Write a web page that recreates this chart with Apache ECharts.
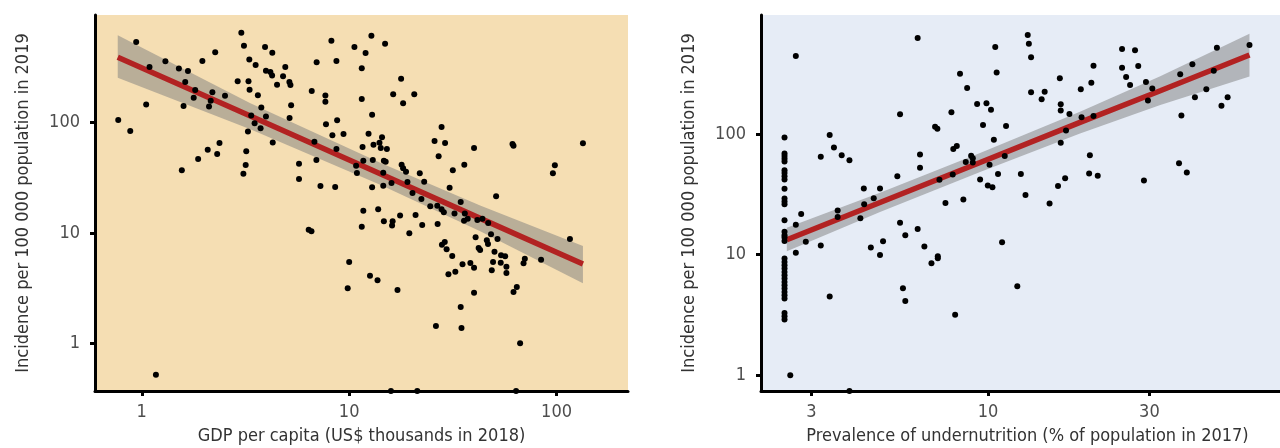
<!DOCTYPE html>
<html>
<head>
<meta charset="utf-8">
<script src="https://cdn.jsdelivr.net/npm/echarts@6/dist/echarts.min.js"></script>
<style>
html,body{margin:0;padding:0;background:#fff;}
#chart{width:1280px;height:448px;}
</style>
</head>
<body>
<div id="chart"></div>
<script>
// ---------- Left panel: GDP per capita vs incidence ----------
const gdpPoints = [
[0.94,539],[0.77,106],[0.88,84],[1.09,320],[1.05,146],[1.30,360],[1.51,309],[1.67,294],[1.62,234],[1.81,198],
[1.78,168],[1.59,142],[1.96,362],[2.26,435],[2.19,189],[2.15,158],[2.11,140],[2.52,175],[3.02,654],[3.11,499],
[3.30,373],[3.54,334],[2.90,237],[3.27,237],[3.31,199],[3.63,177],[3.77,137],[3.37,116],[3.50,99],[3.74,89],
[3.97,114],[3.25,83],[3.93,486],[4.26,431],[3.97,296],[4.17,288],[4.25,267],[4.49,221],[4.80,263],[4.92,320],
[5.15,234],[5.21,220],[5.25,144],[5.16,110],[4.28,66],[2.37,65.5],[2.08,56.9],[2.31,52],[1.87,46.9],[1.56,37],
[3.19,55],[3.17,41.4],[3.09,34.5],[5.73,42.5],[5.73,30.9],[6.97,353],[6.60,194],[6.80,67],[6.95,45.9],[7.27,26.7],
[7.68,176],[7.68,155],[7.73,96.7],[8.21,554],[8.30,76.9],[8.68,362],[10.6,486],[12.0,428],[12.8,615],[14.9,520],
[11.5,311],[17.8,250],[16.3,181],[18.2,150],[20.6,181],[11.5,164],[8.75,105],[12.9,118],[9.39,79],[12.4,79.5],
[14.4,73.7],[11.6,60.2],[13.1,63.2],[14.0,65.9],[14.2,59.0],[15.2,57.7],[8.68,57.7],[8.56,26.1],[10.8,40.7],[10.9,35.0],
[11.7,45.2],[13.0,45.9],[14.7,45.2],[15.0,44.3],[14.6,35.2],[16.0,28.4],[12.9,26.0],[14.6,26.8],[17.9,41.6],[18.2,38.6],
[18.8,36.0],[19.1,29.0],[21.9,34.8],[23.0,29.2],[20.2,23.0],[22.3,20.3],[24.6,17.5],[26.6,17.7],[27.9,16.4],[28.6,15.4],
[32.2,15.0],[34.5,19.1],[36.1,15.0],[30.5,25.7],[31.6,37.0],[35.9,41.6],[27.9,91.4],[25.8,68.2],[29.0,65.5],[27.0,49.6],
[40.0,59.0],[51.1,21.5],[61.3,64.1],[62.0,61.9],[134,65.1],[98.1,41.1],[96.0,34.8],[11.7,15.9],[13.8,16.4],[14.7,12.8],
[16.2,12.8],[17.6,14.4],[20.9,14.6],[26.7,12.1],[35.8,12.9],[37.3,13.5],[41.5,13.1],[43.9,13.5],[46.8,12.3],[11.5,11.4],
[16.1,11.7],[22.5,11.8],[19.5,9.94],[40.7,9.14],[46.1,8.59],[46.7,7.95],[48.3,9.73],[51.9,8.82],[42.1,7.31],[42.8,7.01],
[50.2,6.77],[54.0,6.28],[56.5,6.15],[28.0,7.83],[28.9,8.28],[29.5,7.11],[31.4,6.19],[35.2,5.20],[38.4,5.35],[40.0,4.85],
[49.4,5.46],[48.7,4.59],[53.8,5.38],[57.3,4.95],[57.3,4.34],[70.3,5.85],[69.3,5.31],[84.2,5.73],[116,8.82],[30.1,4.22],
[32.5,4.46],[64.3,3.24],[62.0,2.92],[40.0,2.88],[34.5,2.13],[26.2,1.44],[34.8,1.38],[66.7,1.0],[10.0,5.46],[9.84,3.15],
[12.6,4.10],[13.7,3.73],[17.1,3.04],[6.38,10.7],[6.58,10.4],[1.17,0.52]
];
// countries below the y-axis floor (drawn on the lower edge)
const gdpAtFloorX = [15.9, 21.3, 63.8];
const gdpFitX     = [0.766, 3.34, 14.2, 43.1, 134];
const gdpFitY     = [392, 115, 34.2, 13.5, 5.24];
const gdpFitLower = [256, 87.3, 27.2, 10.3, 3.50];
const gdpFitUpper = [620, 150, 43.1, 17.7, 7.62];
const gdpXTicks = [1, 10, 100];
const gdpYTicks = [1, 10, 100];

// ---------- Right panel: undernutrition vs incidence ----------
const underPoints = [
[2.5,93.9],[2.5,69.2],[2.5,65.7],[2.5,62.4],[2.5,59.3],[2.5,50.2],[2.5,47.7],[2.5,44.8],[2.5,42.1],[2.5,35.2],
[2.5,29.3],[2.5,27.6],[2.5,26.2],[2.5,19.3],[2.5,15.5],[2.5,14.5],[2.5,13.9],[2.5,13.0],[2.5,9.30],[2.5,8.71],
[2.5,8.18],[2.5,7.68],[2.5,7.20],[2.5,6.76],[2.5,6.35],[2.5,5.95],[2.5,5.58],[2.5,5.24],[2.5,4.91],[2.5,4.61],
[2.5,4.33],[2.5,3.29],[2.5,3.09],[2.5,2.90],
[2.70,444],[6.19,626],[8.26,317],[8.67,241],[7.79,152],[6.97,115],[7.08,111],[5.49,146],[3.40,98.1],[3.50,77.6],
[3.20,64.8],[3.69,66.9],[3.89,60.8],[6.29,67.9],[6.29,52.5],[7.89,75.1],[8.08,79.5],[7.86,46.3],[8.59,58.6],[5.39,44.8],
[7.18,41.8],[4.29,35.4],[4.79,35.4],[4.59,29.4],[4.30,26.2],[3.59,23.3],[3.59,20.5],[4.19,20.1],[2.80,21.8],[7.48,26.9],
[8.45,28.7],[5.49,18.4],[2.70,17.7],[2.70,10.4],[2.89,12.8],[3.20,11.9],[2.60,1.0],[3.40,4.50],[4.50,11.5],[4.79,9.96],
[4.89,12.9],[5.69,14.5],[6.19,16.3],[5.60,5.27],[5.69,4.14],[6.48,11.7],[6.80,8.50],[7.10,9.72],[7.10,9.35],[7.99,3.17],
[11.0,12.7],[12.2,5.48],[10.5,527],[10.6,325],[13.1,663],[13.2,562],[13.4,433],[13.4,222],[14.7,224],[14.4,195],
[9.28,178],[9.89,180],[10.2,159],[9.66,119],[11.3,117],[10.4,89.7],[8.91,66.1],[9.01,63.2],[9.01,58.2],[10.1,55.6],
[11.2,65.7],[10.7,46.6],[9.47,42.1],[9.98,37.5],[10.3,36.3],[12.5,46.6],[12.9,31.2],[15.2,26.6],[16.1,37.2],[16.9,43.1],
[16.4,84.7],[17.0,107],[17.4,147],[16.4,157],[16.4,177],[16.3,290],[18.9,138],[18.8,236],[20.2,267],[20.5,369],
[20.5,141],[20.0,66.9],[19.9,47.2],[21.1,45.1],[24.9,508],[24.9,355],[25.6,297],[26.3,255],[27.2,495],[27.8,367],
[29.3,270],[30.6,239],[29.7,190],[28.9,41.3],[36.7,57.4],[38.7,48.1],[37.3,143],[37.0,313],[40.2,379],[40.9,202],
[44.2,236],[46.5,335],[47.5,520],[49.0,172],[51.1,202],[59.3,548]
];
const underAtFloorX = [3.89];
const underFitX     = [2.54, 4.79, 9.47, 18.7, 32.3, 59.3];
const underFitY     = [13.3, 27.1, 58.1, 125, 229, 453];
const underFitLower = [10.7, 22.6, 48.4, 101, 174, 301];
const underFitUpper = [16.7, 32.6, 69.7, 153, 302, 680];
const underXTicks = [3, 10, 30];
const underYTicks = [1, 10, 100];

// ---------- axis ranges ----------
const LEFT_X = [0.595, 221], LEFT_Y = [0.37, 946];
const RIGHT_X = [2.13, 73], RIGHT_Y = [0.741, 972];

const FONT = "'DejaVu Sans Condensed', 'DejaVu Sans', sans-serif";
const FS = 18;

function xAxisCfg(grid, range, ticks, name, namePad) {
  return {
    type: 'log', logBase: 10, gridIndex: grid, min: range[0], max: range[1],
    name: name, nameLocation: 'middle', nameGap: 36,
    nameTextStyle: {fontFamily: FONT, fontSize: FS, color: '#333', padding: namePad},
    axisLine: {show: true, onZero: false, lineStyle: {color: '#000', width: 3}},
    axisTick: {show: true, customValues: ticks, length: 5, lineStyle: {color: '#000', width: 3}},
    axisLabel: {customValues: ticks, fontFamily: FONT, fontSize: FS, color: '#4d4d4d', margin: 12},
    splitLine: {show: false}, minorTick: {show: false}
  };
}
function yAxisCfg(grid, range, ticks, name) {
  return {
    type: 'log', logBase: 10, gridIndex: grid, min: range[0], max: range[1],
    name: name, nameLocation: 'middle', nameGap: 63,
    nameTextStyle: {fontFamily: FONT, fontSize: FS, color: '#333'},
    axisLine: {show: true, onZero: false, lineStyle: {color: '#000', width: 3}},
    axisTick: {show: true, customValues: ticks, length: 5, lineStyle: {color: '#000', width: 3}},
    axisLabel: {customValues: ticks, fontFamily: FONT, fontSize: FS, color: '#4d4d4d', margin: 15},
    splitLine: {show: false}, minorTick: {show: false}
  };
}

function bandSeries(idx, xs, lo, hi) {
  const items = xs.map((x, i) => [x, lo[i], hi[i]]);
  return {
    type: 'custom', xAxisIndex: idx, yAxisIndex: idx, z: 1, silent: true,
    data: items,
    renderItem: function (params, api) {
      if (params.dataIndex !== 0) return null;
      const pts = [];
      for (let i = 0; i < items.length; i++) pts.push(api.coord([items[i][0], items[i][2]]));
      for (let i = items.length - 1; i >= 0; i--) pts.push(api.coord([items[i][0], items[i][1]]));
      return {type: 'polygon', shape: {points: pts}, style: {fill: 'rgba(125,125,125,0.5)'}};
    }
  };
}
function fitSeries(idx, xs, ys) {
  return {
    type: 'line', xAxisIndex: idx, yAxisIndex: idx, z: 2, silent: true,
    data: xs.map((x, i) => [x, ys[i]]), showSymbol: false, symbol: 'none',
    lineStyle: {color: '#b22222', width: 5.5}, animation: false
  };
}
function pointSeries(idx, pts, floorXs, floorY) {
  const data = pts.concat(floorXs.map(x => [x, floorY]));
  return {
    type: 'scatter', xAxisIndex: idx, yAxisIndex: idx, z: 3, clip: true,
    data: data, symbolSize: 6, itemStyle: {color: '#000', opacity: 1}, silent: true
  };
}

const chart = echarts.init(document.getElementById('chart'), null, {renderer: 'canvas'});
chart.setOption({
  animation: false,
  backgroundColor: '#ffffff',
  grid: [
    {left: 95, right: 652, top: 15, bottom: 57, show: true, backgroundColor: '#f5deb3', borderWidth: 0,
     containLabel: false, outerBoundsMode: 'none'},
    {left: 761, right: 0, top: 15, bottom: 57, show: true, backgroundColor: '#e6ecf6', borderWidth: 0,
     containLabel: false, outerBoundsMode: 'none'}
  ],
  xAxis: [
    xAxisCfg(0, LEFT_X, gdpXTicks, 'GDP per capita (US$ thousands in 2018)', 0),
    xAxisCfg(1, RIGHT_X, underXTicks, 'Prevalence of undernutrition (% of population in 2017)', [0, 0, 0, 14])
  ],
  yAxis: [
    yAxisCfg(0, LEFT_Y, gdpYTicks, 'Incidence per 100 000 population in 2019'),
    yAxisCfg(1, RIGHT_Y, underYTicks, 'Incidence per 100 000 population in 2019')
  ],
  series: [
    bandSeries(0, gdpFitX, gdpFitLower, gdpFitUpper),
    fitSeries(0, gdpFitX, gdpFitY),
    pointSeries(0, gdpPoints, gdpAtFloorX, LEFT_Y[0]),
    bandSeries(1, underFitX, underFitLower, underFitUpper),
    fitSeries(1, underFitX, underFitY),
    pointSeries(1, underPoints, underAtFloorX, RIGHT_Y[0])
  ]
});
</script>
</body>
</html>
